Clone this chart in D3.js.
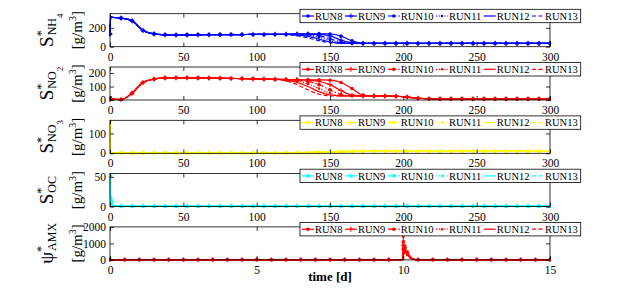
<!DOCTYPE html>
<html>
<head>
<meta charset="utf-8">
<script src="https://cdn.jsdelivr.net/npm/d3@7"></script>
<style>
  body { margin: 0; background: #fff; }
  svg, svg text { font-family: "Liberation Serif", "DejaVu Serif", serif; }
</style>
</head>
<body>
<svg id="chart"></svg>
<script>
// ---- data ----
const runs = ["RUN8", "RUN9", "RUN10", "RUN11", "RUN12", "RUN13"]

// time grid, days-scaled axis 0..300 (panels 1-4)
const tHead = [0, 0.5, 1, 1.5, 7.5, 15, 22.5, 30, 37.5, 45, 52.5, 60, 67.5, 75, 82.5, 90, 97.5, 105, 112.5]
const tMid  = [120, 127.5, 135, 142.5, 150, 157.5, 165, 172.5, 180]
const tTail = [187.5, 195, 202.5, 210, 217.5, 225, 232.5, 240, 247.5, 255, 262.5, 270, 277.5, 285, 292.5, 300]

const nh4Head = [135, 315, 314, 312, 303, 275, 172, 136, 126, 124, 125, 126, 127, 128, 129, 129, 130, 130, 131]
const nh4Mid = [
  [132, 134, 136, 137, 135, 112, 62, 37, 35],
  [132, 133, 134, 131, 114, 70, 42, 35, 35],
  [131, 132, 129, 117, 84, 50, 37, 35, 35],
  [131, 129, 121, 99, 64, 41, 35, 35, 35],
  [131, 125, 109, 80, 50, 37, 35, 35, 35],
  [129, 117, 94, 64, 42, 36, 35, 35, 35]
]
const nh4Tail = [35, 35, 35, 35, 35, 35, 35, 35, 35, 35, 35, 35, 35, 35, 35, 35]

const no2Head = [0, 25, 12, 6, 3, 50, 130, 155, 164, 165, 165, 164, 163, 162, 160, 159, 157, 155, 153]
const no2Mid = [
  [152, 151, 150, 149, 147, 130, 85, 36, 30],
  [152, 150, 147, 139, 114, 70, 36, 30, 30],
  [151, 147, 137, 114, 75, 40, 31, 30, 30],
  [150, 141, 119, 85, 50, 33, 30, 30, 30],
  [147, 131, 100, 62, 37, 31, 30, 30, 30],
  [142, 114, 75, 43, 31, 30, 30, 30, 30]
]
const no2Tail = [29, 28, 22, 13, 9, 8, 8, 8, 8, 8, 8, 8, 8, 8, 8, 8]

const no3Head = [160, 4, 2, 1, 1, 1, 1, 1, 1, 1, 1, 1, 1, 1, 1, 1, 1, 1, 1]
const no3Mid = [
  [1, 2, 2, 3, 4, 6, 8, 10, 10],
  [1, 2, 3, 4, 6, 8, 10, 10, 10],
  [2, 2, 3, 5, 7, 9, 10, 10, 10],
  [2, 3, 4, 6, 8, 10, 10, 10, 10],
  [2, 3, 5, 7, 9, 10, 10, 10, 10],
  [2, 4, 6, 8, 10, 10, 10, 10, 10]
]
const no3Tail = [10, 10, 10, 10, 10, 10, 10, 10, 10, 10, 10, 10, 10, 10, 10, 10]

const ocHead = [52, 4, 16, 2, 0.5, 0.5, 0.5, 0.5, 0.5, 0.5, 0.5, 0.5, 0.5, 0.5, 0.5, 0.5, 0.5, 0.5, 0.5]
const ocMid = [
  [0.5, 0.5, 0.5, 0.5, 0.5, 0.5, 0.5, 0.5, 0.5],
  [0.5, 0.5, 0.5, 0.5, 0.5, 0.5, 0.5, 0.5, 0.5],
  [0.5, 0.5, 0.5, 0.5, 0.5, 0.5, 0.5, 0.5, 0.5],
  [0.5, 0.5, 0.5, 0.5, 0.5, 0.5, 0.5, 0.5, 0.5],
  [0.5, 0.5, 0.5, 0.5, 0.5, 0.5, 0.5, 0.5, 0.5],
  [0.5, 0.5, 0.5, 0.5, 0.5, 0.5, 0.5, 0.5, 0.5]
]
const ocTail = [0.5, 0.5, 0.5, 0.5, 0.5, 0.5, 0.5, 0.5, 0.5, 0.5, 0.5, 0.5, 0.5, 0.5, 0.5, 0.5]

// last panel, time in days 0..15
const tAmxHead = [0, 0.5, 1, 1.5, 2, 2.5, 3, 3.5, 4, 4.5, 5, 5.5, 6, 6.5, 7, 7.5, 8, 8.5, 9, 9.5]
const tAmxMid  = [9.98, 10, 10.04, 10.08, 10.12, 10.16, 10.22, 10.3, 10.4, 10.5]
const tAmxTail = [11, 11.5, 12, 12.5, 13, 13.5, 14, 14.5, 15]
const amxHead = [0, 0, 0, 0, 0, 0, 0, 0, 0, 0, 0, 0, 0, 0, 0, 0, 0, 0, 0, 0]
const amxMid = [
  [0, 650, 380, 520, 260, 300, 120, 55, 15, 0],
  [0, 880, 500, 640, 330, 380, 160, 70, 20, 0],
  [0, 1100, 620, 780, 420, 460, 200, 90, 25, 0],
  [0, 1400, 720, 920, 480, 540, 240, 100, 30, 0],
  [0, 800, 450, 580, 300, 340, 140, 60, 15, 0],
  [0, 1250, 660, 840, 450, 500, 220, 95, 25, 0]
]
const amxTail = [0, 0, 0, 0, 0, 0, 0, 0, 0]

const xTicksRun = [0, 50, 100, 150, 200, 250, 300]
const xTicksAmx = [0, 5, 10, 15]

// ---- layout ----
const width = 630, height = 288
const left = 110, right = 550, ph = 33, step = 53.3, top0 = 13.7
const serif = "'Liberation Serif', 'DejaVu Serif', serif"

const svg = d3.select("#chart").attr("width", width).attr("height", height)
              .attr("font-family", serif)

const tRun = tHead.concat(tMid, tTail)
const tAmx = tAmxHead.concat(tAmxMid, tAmxTail)

const panels = [
  {color: "#0000ff", t: tRun, head: nh4Head, mid: nh4Mid, tail: nh4Tail, yMax: 350, yTicks: [0, 200], xTicks: xTicksRun, xMax: 300, mk: 7.5,
   label: {main: "S", sub: "NH", subsub: "4"}},
  {color: "#ff0000", t: tRun, head: no2Head, mid: no2Mid, tail: no2Tail, yMax: 245, yTicks: [0, 100, 200], xTicks: xTicksRun, xMax: 300, mk: 7.5,
   label: {main: "S", sub: "NO", subsub: "2"}},
  {color: "#ffff00", t: tRun, head: no3Head, mid: no3Mid, tail: no3Tail, yMax: 166, yTicks: [0, 100], xTicks: xTicksRun, xMax: 300, mk: 7.5,
   label: {main: "S", sub: "NO", subsub: "3"}},
  {color: "#00ffff", t: tRun, head: ocHead, mid: ocMid, tail: ocTail, yMax: 55.5, yTicks: [0, 50], xTicks: xTicksRun, xMax: 300, mk: 7.5,
   label: {main: "S", sub: "OC", subsub: ""}},
  {color: "#ff0000", t: tAmx, head: amxHead, mid: amxMid, tail: amxTail, yMax: 2000, yTicks: [0, 1000, 2000], xTicks: xTicksAmx, xMax: 15, mk: 0.5,
   label: {main: "\u03C8", sub: "AMX", subsub: ""}}
]

// line style per run: dash pattern and marker kind
const dashes  = [null, null, "5,2,1.5,2", "1.2,1.6", null, "4,2.5"]
const markers = ["dot", "plus", "dot", "small", null, null]

function drawMarker(sel, kind, color) {
  if (kind === "plus") {
    sel.append("path").attr("d", "M-2.6,0H2.6M0,-2.6V2.6")
       .attr("stroke", color).attr("stroke-width", 1)
  } else if (kind) {
    sel.append("circle").attr("r", kind === "dot" ? 1.8 : 1.3).attr("fill", color)
  }
}

panels.forEach((p, i) => {
  const top = top0 + i * step, bottom = top + ph
  const x = d3.scaleLinear().domain([0, p.xMax]).range([left, right])
  const y = d3.scaleLinear().domain([0, p.yMax]).range([bottom, top])
  const g = svg.append("g")

  g.append("clipPath").attr("id", `clip${i}`)
   .append("rect").attr("x", left - 1).attr("y", top - 1.5)
   .attr("width", right - left + 2).attr("height", ph + 3)

  const line = d3.line()
                 .x(d => x(d[0]))
                 .y(d => y(d[1]))
                 .curve(i < 4 ? d3.curveMonotoneX : d3.curveLinear)

  const plot = g.append("g").attr("clip-path", `url(#clip${i})`)

  runs.forEach((run, r) => {
    const vals = p.head.concat(p.mid[r], p.tail)
    const pts = p.t.map((t, k) => [t, vals[k]])
    plot.append("path")
        .attr("d", line(pts))
        .attr("fill", "none")
        .attr("stroke", p.color)
        .attr("stroke-width", 1.2)
        .attr("stroke-dasharray", dashes[r])
    if (markers[r]) {
      pts.filter(d => Math.abs(d[0] / p.mk - Math.round(d[0] / p.mk)) < 1e-6)
         .forEach(d => {
           const m = plot.append("g").attr("transform", `translate(${x(d[0])},${y(d[1])})`)
           drawMarker(m, markers[r], p.color)
         })
    }
  })

  // frame + mirrored inward ticks
  g.append("rect").attr("x", left).attr("y", top).attr("width", right - left).attr("height", ph)
   .attr("fill", "none").attr("stroke", "#000").attr("stroke-width", 0.8)

  const fmt = d3.format("d")
  const ax = [
    g.append("g").attr("transform", `translate(0,${bottom})`)
     .call(d3.axisBottom(x).tickValues(p.xTicks).tickSizeInner(-4).tickSizeOuter(0).tickPadding(6).tickFormat(fmt)),
    g.append("g").attr("transform", `translate(0,${top})`)
     .call(d3.axisTop(x).tickValues(p.xTicks).tickSizeInner(-4).tickSizeOuter(0).tickFormat("")),
    g.append("g").attr("transform", `translate(${left},0)`)
     .call(d3.axisLeft(y).tickValues(p.yTicks).tickSizeInner(-4).tickSizeOuter(0).tickPadding(4).tickFormat(fmt)),
    g.append("g").attr("transform", `translate(${right},0)`)
     .call(d3.axisRight(y).tickValues(p.yTicks).tickSizeInner(-4).tickSizeOuter(0).tickFormat(""))
  ]
  ax.forEach(a => {
    a.select(".domain").remove()
    a.attr("font-family", serif).attr("font-size", 11.5)
    a.selectAll("line").attr("stroke-width", 0.8)
    a.selectAll("text").attr("fill", "#000")
  })

  // y label, two rotated lines
  const cy = (top + bottom) / 2
  const l1 = g.append("text").attr("transform", `translate(53,${cy}) rotate(-90)`)
              .attr("text-anchor", "middle").attr("fill", "#000")
  l1.append("tspan").attr("font-size", 19).text(p.label.main)
  l1.append("tspan").attr("font-size", 12).attr("dy", -8).text("*")
  l1.append("tspan").attr("font-size", 12).attr("dx", -5).attr("dy", 11).text(p.label.sub)
  if (p.label.subsub) l1.append("tspan").attr("font-size", 9).attr("dy", 7).text(p.label.subsub)

  const l2 = g.append("text").attr("transform", `translate(82,${cy}) rotate(-90)`)
              .attr("text-anchor", "middle").attr("fill", "#000").attr("font-size", 15)
  l2.append("tspan").text("[g/m")
  l2.append("tspan").attr("font-size", 10).attr("dy", -6).text("3")
  l2.append("tspan").attr("dy", 6).text("]")

  // legend box, entries laid out left to right
  const lg = g.append("g")
  const lTop = top - 4.4, lH = 13.4
  lg.append("rect").attr("x", 300).attr("y", lTop).attr("width", 280.7).attr("height", lH)
    .attr("fill", "#fff").attr("stroke", "#000").attr("stroke-width", 0.8)
  let cx = 302
  const ly = lTop + lH / 2
  runs.forEach((run, r) => {
    lg.append("line").attr("x1", cx).attr("x2", cx + 12).attr("y1", ly).attr("y2", ly)
      .attr("stroke", p.color).attr("stroke-width", 1.2).attr("stroke-dasharray", dashes[r])
    if (markers[r]) drawMarker(lg.append("g").attr("transform", `translate(${cx + 6},${ly})`), markers[r], p.color)
    const t = lg.append("text").attr("x", cx + 13).attr("y", ly + 3.7)
                .attr("font-size", 10.5).attr("fill", "#000").text(run)
    cx += 13 + t.node().getComputedTextLength() + 2.5
  })
})

svg.append("text").attr("x", (left + right) / 2).attr("y", 281)
   .attr("text-anchor", "middle").attr("font-size", 13).attr("font-weight", "bold")
   .text("time [d]")
</script>
</body>
</html>
